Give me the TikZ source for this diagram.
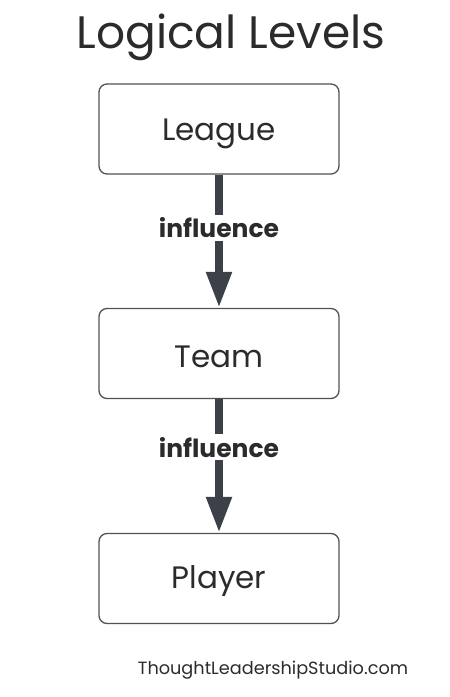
\documentclass[tikz,border=0pt]{standalone}
\usepackage{fontspec}
\setmainfont{Poppins}
\usetikzlibrary{arrows.meta}
\definecolor{txt}{HTML}{2B2B2B}
\definecolor{boxline}{HTML}{505258}
\definecolor{arr}{HTML}{3C4049}
\begin{document}
\begin{tikzpicture}[x=1pt,y=-1pt,
  levelbox/.style={draw=boxline,line width=1.3pt,rounded corners=8pt,minimum width=240pt,minimum height=90pt,inner sep=0pt},
  boxtext/.style={font=\fontsize{31}{33}\selectfont,text=txt,inner sep=0pt},
  flow/.style={draw=arr,line width=8pt,-{Triangle[width=24pt,length=36pt]}},
  lbl/.style={font=\fontsize{25}{27}\selectfont\bfseries,text=txt,fill=white,inner sep=3pt}]
\useasboundingbox (0,0) rectangle (450,697);
\node[text=txt,font=\fontsize{45.5}{48}\selectfont] (title) at (231,37) {Logical Levels};
\node[levelbox] (league) at (219,129) {};
\node[levelbox] (team) at (219,353.5) {};
\node[levelbox] (player) at (219,578.5) {};
\node[boxtext] (leaguet) at ([yshift=-5pt]league.center) {League};
\node[boxtext] (teamt) at ([yshift=-3pt]team.center) {Team};
\node[boxtext] (playert) at ([yshift=-3pt]player.center) {Player};
\draw[flow] (league.south) -- node[lbl,pos=0.4] (l1) {influence} (team.north);
\draw[flow] (team.south) -- node[lbl,pos=0.36] (l2) {influence} (player.north);
\node[text=txt,font=\fontsize{17.7}{20}\selectfont] (footer) at (273,670) {ThoughtLeadershipStudio.com};
\end{tikzpicture}
\end{document}
